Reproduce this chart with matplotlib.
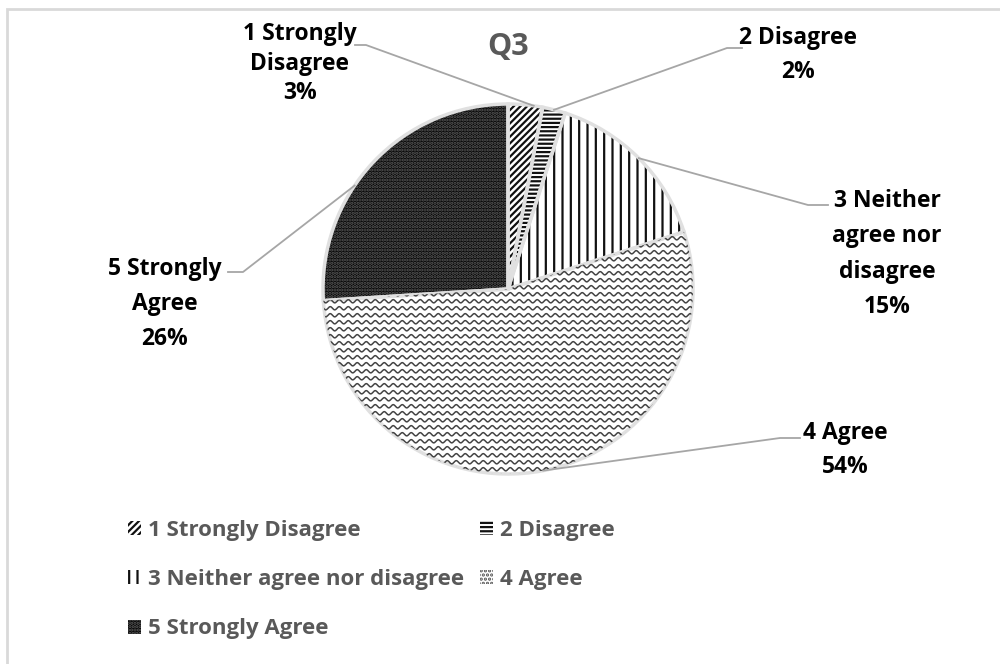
import matplotlib
matplotlib.use('Agg')
from matplotlib import pyplot as plt
from matplotlib.patches import Rectangle
import numpy as np

categories = ['1 Strongly Disagree', '2 Disagree', '3 Neither agree nor disagree',
              '4 Agree', '5 Strongly Agree']
values = [3, 2, 15, 54, 26]
label_texts = ['1 Strongly\nDisagree\n3%', '2 Disagree\n2%',
               '3 Neither\nagree nor\ndisagree\n15%', '4 Agree\n54%',
               '5 Strongly\nAgree\n26%']

plt.rcParams['font.family'] = ['Open Sans', 'DejaVu Sans']
plt.rcParams['font.weight'] = 'bold'
plt.rcParams['hatch.linewidth'] = 1.6

W, H = 1000, 664
fig = plt.figure(figsize=(W / 100, H / 100), dpi=100)

def fx(x):
    return x / W

def fy(y):
    return 1 - y / H

# outer frame (only top/left visible)
fig.patches.append(Rectangle((fx(7), fy(H + 20)), fx(W + 20), fy(9) - fy(H + 20),
                             transform=fig.transFigure, fill=False,
                             edgecolor='#d9d9d9', lw=2))

cx, cy, r = 508, 289, 185
ax = fig.add_axes([fx(cx - r), fy(cy + r), 2 * r / W, 2 * r / H])

faces = ['white', 'white', 'white', 'white', '#050505']
hcols = ['#111111', '#111111', '#111111', '#555555', '#5c5c5c']
hatches = ['/////', '----', '||', '....', '.....']

wedges, _ = ax.pie(values, startangle=90, counterclock=False, radius=1,
                   wedgeprops=dict(linewidth=0))
for w, fc, hc, hh in zip(wedges, faces, hcols, hatches):
    w.set_facecolor(fc)
    w.set_edgecolor(hc)
    w.set_linewidth(0)
    w.set_hatch(hh)
wedges[3].set_hatch(None)

# wavy texture for "4 Agree"
xs = np.linspace(-1.05, 1.05, 800)
step = 7 / r
for y0 in np.arange(-1.05, 1.05, step):
    ln, = ax.plot(xs, y0 + 1.6 / r * np.sin(xs * r / 9 * 2 * np.pi),
                  color='#444444', lw=1.1)
    ln.set_clip_path(wedges[3])

# faint outlines
ax.pie(values, startangle=90, counterclock=False, radius=1,
       wedgeprops=dict(fill=False, edgecolor='#e0e0e0', linewidth=2.5))
ax.set_xlim(-1, 1)
ax.set_ylim(-1, 1)
ax.axis('off')

# title
fig.text(fx(508), fy(47), 'Q3', ha='center', va='center', fontsize=22,
         color='#595959', fontweight='bold')

# labels and leader lines
label_pos = [(300, 63.5), (798, 55), (887, 254), (845, 450), (165, 304)]
label_ls = [1.33, 1.6, 1.62, 1.6, 1.62]
anchor_ang = [82, 75.6, 45, -79, 146]
elbows = [[(355, 45), (366, 45)], [(742, 48), (727, 48)],
          [(828, 205), (808, 205)], [(800, 438), (780, 438)],
          [(228, 272), (243, 272)]]

for txt, (lx, ly), ls, ang, el in zip(label_texts, label_pos, label_ls, anchor_ang, elbows):
    fig.text(fx(lx), fy(ly), txt, ha='center', va='center', fontsize=16.5,
             fontweight='bold', color='black', linespacing=ls)
    a = np.deg2rad(ang)
    px, py = ax.transData.transform((np.cos(a), np.sin(a)))
    pts = [(fx(p[0]), fy(p[1])) for p in el] + [(px / W, py / H)]
    fig.lines.append(plt.Line2D([p[0] for p in pts], [p[1] for p in pts],
                                transform=fig.transFigure, color='#a6a6a6', lw=1.3))

# legend: handles copy the slice styles
handles = []
for i, w in enumerate(wedges):
    h = Rectangle((0, 0), 1, 1, facecolor=faces[i], edgecolor=hcols[i],
                  hatch=hatches[i], linewidth=0)
    handles.append(h)

order = [0, 2, 4, 1, 3]
leg = fig.legend([handles[i] for i in order], [categories[i] for i in order],
                 ncol=2, loc='upper left', bbox_to_anchor=(fx(128), fy(520)),
                 frameon=False, fontsize=16, handlelength=0.6, handleheight=0.6,
                 handletextpad=0.3, columnspacing=0.7, labelspacing=1.27,
                 borderaxespad=0, borderpad=0)
for t in leg.get_texts():
    t.set_color('#595959')
    t.set_fontweight('bold')

fig.savefig('out.png', dpi=100)
